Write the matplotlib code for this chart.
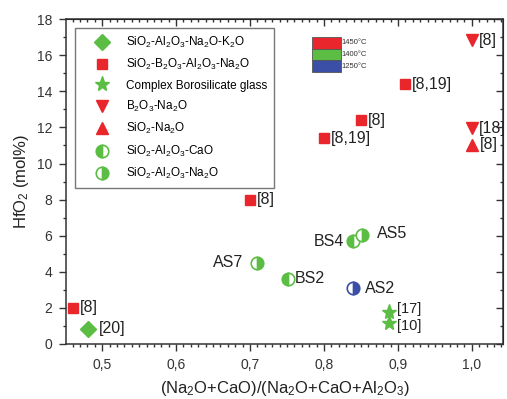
import matplotlib
matplotlib.use('Agg')
import matplotlib.pyplot as plt
from matplotlib.patches import Rectangle
from matplotlib.ticker import MultipleLocator, FixedLocator

plt.rcParams['font.family'] = ['Liberation Sans', 'DejaVu Sans']
plt.rcParams['mathtext.default'] = 'regular'

RED = '#e8262b'
GREEN = '#5cbd45'
BLUE = '#3b4fa6'

# data
# SiO2-Al2O3-Na2O-K2O
dia_x = [0.481]
dia_y = [0.85]
dia_lbl = ['[20]']
# SiO2-B2O3-Al2O3-Na2O
sq_x = [0.461, 0.700, 0.800, 0.850, 0.909]
sq_y = [2.0, 8.0, 11.4, 12.4, 14.4]
sq_lbl = ['[8]', '[8]', '[8,19]', '[8]', '[8,19]']
# Complex borosilicate glass
star_x = [0.888, 0.888]
star_y = [1.77, 1.16]
star_lbl = ['[17]', '[10]']
# B2O3-Na2O
tdn_x = [1.0, 1.0]
tdn_y = [16.83, 11.96]
tdn_lbl = ['[8]', '[18]']
# SiO2-Na2O
tup_x = [1.0]
tup_y = [11.05]
tup_lbl = ['[8]']
# SiO2-Al2O3-CaO (left half filled)
cao_x = [0.751, 0.839]
cao_y = [3.6, 5.7]
cao_lbl = ['BS2', 'BS4']
cao_col = [GREEN, GREEN]
# SiO2-Al2O3-Na2O (right half filled)
na_x = [0.709, 0.851, 0.839]
na_y = [4.5, 6.04, 3.1]
na_lbl = ['AS7', 'AS5', 'AS2']
na_col = [GREEN, GREEN, BLUE]

temp_labels = ['1450°C', '1400°C', '1250°C']
temp_colors = [RED, GREEN, BLUE]

xticks = [0.5, 0.6, 0.7, 0.8, 0.9, 1.0]
xtick_labels = ['0,5', '0,6', '0,7', '0,8', '0,9', '1,0']

fig = plt.figure(figsize=(5.07, 3.99), dpi=100)
ax = fig.add_axes([0.130, 0.138, 0.862, 0.814])

ax.plot(dia_x, dia_y, 'D', color=GREEN, ms=8, ls='none', label='SiO$_2$-Al$_2$O$_3$-Na$_2$O-K$_2$O')
ax.plot(sq_x, sq_y, 's', color=RED, ms=7, ls='none', label='SiO$_2$-B$_2$O$_3$-Al$_2$O$_3$-Na$_2$O')
ax.plot(star_x, star_y, '*', color=GREEN, ms=11, ls='none', label='Complex Borosilicate glass')
ax.plot(tdn_x, tdn_y, 'v', color=RED, ms=9, ls='none', label='B$_2$O$_3$-Na$_2$O')
ax.plot(tup_x, tup_y, '^', color=RED, ms=9, ls='none', label='SiO$_2$-Na$_2$O')
ax.plot([], [], 'o', color=GREEN, mec=GREEN, mfc=GREEN, mfcalt='white', fillstyle='left',
        ms=9, mew=1.2, ls='none', label='SiO$_2$-Al$_2$O$_3$-CaO')
ax.plot([], [], 'o', color=GREEN, mec=GREEN, mfc=GREEN, mfcalt='white', fillstyle='right',
        ms=9, mew=1.2, ls='none', label='SiO$_2$-Al$_2$O$_3$-Na$_2$O')
for x, y, c in zip(cao_x, cao_y, cao_col):
    ax.plot([x], [y], 'o', mec=c, mfc=c, mfcalt='white', fillstyle='left', ms=9, mew=1.2)
for x, y, c in zip(na_x, na_y, na_col):
    ax.plot([x], [y], 'o', mec=c, mfc=c, mfcalt='white', fillstyle='right', ms=9, mew=1.2)

ann = dict(fontsize=11.5, color='#222222', va='center', textcoords='offset points', annotation_clip=False)
for xs, ys, ls, dx in [(dia_x, dia_y, dia_lbl, 8), (sq_x, sq_y, sq_lbl, 5),
                       (tdn_x, tdn_y, tdn_lbl, 5), (tup_x, tup_y, tup_lbl, 6)]:
    for x, y, t in zip(xs, ys, ls):
        ax.annotate(t, (x, y), xytext=(dx, 0), ha='left', **ann)
for x, y, t, dy in zip(star_x, star_y, star_lbl, [2.5, -2.5]):
    ax.annotate(t, (x, y), xytext=(6, dy), ha='left', **dict(ann, fontsize=10.5))

ax.annotate('BS2', (cao_x[0], cao_y[0]), xytext=(5, 0), ha='left', **ann)
ax.annotate('BS4', (cao_x[1], cao_y[1]), xytext=(-6, 0), ha='right', **ann)
ax.annotate('AS7', (na_x[0], na_y[0]), xytext=(-10, 0), ha='right', **ann)
ax.annotate('AS5', (na_x[1], na_y[1]), xytext=(11, 1), ha='left', **ann)
ax.annotate('AS2', (na_x[2], na_y[2]), xytext=(9, 0), ha='left', **ann)

# temperature colour key
kx, ky, kw, kh = 0.563, 0.909, 0.066, 0.036
for i, (lab, col) in enumerate(zip(temp_labels, temp_colors)):
    y0 = ky - i * kh
    ax.add_patch(Rectangle((kx, y0), kw, kh, transform=ax.transAxes,
                           facecolor=col, edgecolor='#555555', lw=0.6))
    ax.text(kx + kw + 0.002, y0 + kh / 2, lab, transform=ax.transAxes,
            fontsize=5.5, va='center', ha='left', color='#333333')

leg = ax.legend(loc='upper left', bbox_to_anchor=(0.021, 0.972), borderaxespad=0,
                fontsize=8.5, frameon=True, fancybox=False, edgecolor='#555555',
                labelspacing=0.62, handlelength=3.4, handletextpad=0.35, borderpad=0.55,
                numpoints=1)
leg.get_frame().set_linewidth(1.0)
leg.set_zorder(5)

ax.set_xlim(0.451, 1.042)
ax.set_ylim(0, 18)
ax.xaxis.set_major_locator(FixedLocator(xticks))
ax.set_xticklabels(xtick_labels)
ax.xaxis.set_minor_locator(MultipleLocator(0.01))
ax.yaxis.set_major_locator(MultipleLocator(2))
ax.yaxis.set_minor_locator(MultipleLocator(1))

ax.tick_params(which='both', direction='out', colors='#333333', labelsize=10, width=1, pad=5)
ax.tick_params(which='major', length=5)
ax.tick_params(which='minor', length=2.5)
for s in ax.spines.values():
    s.set_color('#333333')
    s.set_linewidth(1.1)

# inward ticks on top and right, no labels
top = ax.secondary_xaxis('top')
top.xaxis.set_major_locator(FixedLocator(xticks))
top.xaxis.set_minor_locator(MultipleLocator(0.01))
top.tick_params(which='both', direction='in', labeltop=False, colors='#333333', width=1)
top.tick_params(which='major', length=5)
top.tick_params(which='minor', length=2.5)
right = ax.secondary_yaxis('right')
right.yaxis.set_major_locator(MultipleLocator(2))
right.yaxis.set_minor_locator(MultipleLocator(1))
right.tick_params(which='both', direction='in', labelright=False, colors='#333333', width=1)
right.tick_params(which='major', length=5)
right.tick_params(which='minor', length=2.5)

ax.set_xlabel('(Na$_2$O+CaO)/(Na$_2$O+CaO+Al$_2$O$_3$)', fontsize=12, color='#222222', labelpad=5)
ax.set_ylabel('HfO$_2$ (mol%)', fontsize=12, color='#222222', labelpad=4)

fig.savefig('out.png', dpi=100)
